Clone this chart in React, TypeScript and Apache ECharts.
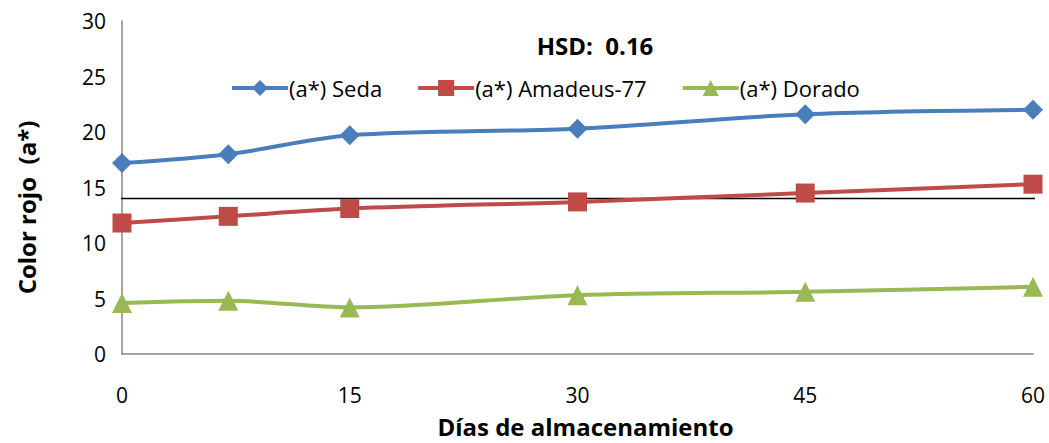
import React, { useEffect, useRef } from "react";
import * as echarts from "echarts";

const days = [0, 7, 15, 30, 45, 60];
const seda = [17.2, 18.0, 19.7, 20.3, 21.6, 22.0];
const amadeus = [11.8, 12.4, 13.1, 13.7, 14.5, 15.3];
const dorado = [4.6, 4.8, 4.2, 5.3, 5.6, 6.05];
const hsdLevel = 14;
const hsdRange = [-0.2, 60.2];
const seriesNames = ["(a*) Seda", "(a*) Amadeus-77", "(a*) Dorado"];
const xTicks = [0, 15, 30, 45, 60];

const FONT = "'Open Sans', sans-serif";

export default function App() {
  const ref = useRef<HTMLDivElement>(null);
  useEffect(() => {
    if (!ref.current) return;
    const chart = echarts.init(ref.current, undefined, { renderer: "svg" });
    const toPts = (arr: number[]) => days.map((d, i) => [d, arr[i]]);
    chart.setOption({
      animation: false,
      textStyle: { fontFamily: FONT },
      title: {
        text: "HSD:  0.16",
        left: 590,
        top: 28,
        textAlign: "center",
        textStyle: { fontFamily: FONT, fontSize: 24, fontWeight: "bold", color: "#000" },
      },
      legend: {
        left: 225,
        top: 72,
        itemWidth: 56,
        itemHeight: 20,
        itemGap: 34,
        lineStyle: { width: 4 },
        textStyle: { fontFamily: FONT, fontSize: 22, color: "#000", padding: [0, 0, 0, -4] },
        data: seriesNames,
      },
      grid: { left: 122, right: 16, top: 21, bottom: 85, containLabel: false },
      xAxis: {
        type: "value",
        min: 0,
        max: 60,
        interval: 15,
        name: "Días de almacenamiento",
        nameLocation: "middle",
        nameGap: 60,
        nameTextStyle: {
          fontFamily: FONT,
          fontSize: 24,
          fontWeight: "bold",
          color: "#000",
          padding: [0, 0, 0, 16],
        },
        axisLine: { show: true, lineStyle: { color: "#868686", width: 1.5 } },
        axisTick: { show: false },
        splitLine: { show: false },
        axisLabel: {
          fontFamily: FONT,
          fontSize: 21,
          color: "#000",
          margin: 30,
          customValues: xTicks,
        },
      },
      yAxis: {
        type: "value",
        min: 0,
        max: 30,
        interval: 5,
        name: "Color rojo  (a*)",
        nameLocation: "middle",
        nameGap: 84,
        nameRotate: 90,
        nameTextStyle: {
          fontFamily: FONT,
          fontSize: 24,
          fontWeight: "bold",
          color: "#000",
          padding: [0, 40, 0, 0],
        },
        axisLine: { show: true, lineStyle: { color: "#868686", width: 1.5 } },
        axisTick: { show: false },
        splitLine: { show: false },
        axisLabel: { fontFamily: FONT, fontSize: 21, color: "#000", margin: 16 },
      },
      series: [
        {
          name: "HSD",
          type: "line",
          data: hsdRange.map((x) => [x, hsdLevel]),
          symbol: "none",
          clip: false,
          silent: true,
          lineStyle: { color: "#000", width: 1.5 },
          z: 2,
        },
        {
          name: seriesNames[0],
          type: "line",
          smooth: 0.3,
          data: toPts(seda),
          symbol: "diamond",
          symbolSize: 20,
          lineStyle: { color: "#4a7ebb", width: 4 },
          itemStyle: { color: "#4a7ebb" },
          z: 3,
        },
        {
          name: seriesNames[1],
          type: "line",
          smooth: 0.3,
          data: toPts(amadeus),
          symbol: "rect",
          symbolSize: 19,
          lineStyle: { color: "#be4b48", width: 4 },
          itemStyle: { color: "#be4b48" },
          z: 3,
        },
        {
          name: seriesNames[2],
          type: "line",
          smooth: 0.3,
          data: toPts(dorado),
          symbol: "triangle",
          symbolSize: 20,
          lineStyle: { color: "#98b954", width: 4 },
          itemStyle: { color: "#98b954" },
          z: 3,
        },
      ],
    });
    return () => chart.dispose();
  }, []);
  return <div ref={ref} style={{ width: 1049, height: 443, position: "absolute", left: 0, top: 0 }} />;
}
